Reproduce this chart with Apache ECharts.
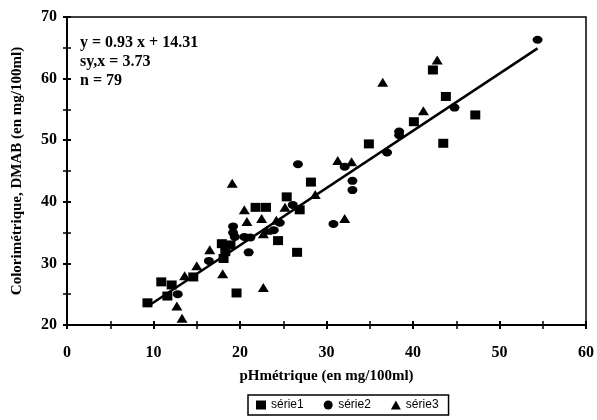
<!DOCTYPE html>
<html><head><meta charset="utf-8">
<script src="https://cdn.jsdelivr.net/npm/echarts@6/dist/echarts.min.js"></script>
<style>html,body{margin:0;padding:0;background:#fff}#c{width:597px;height:420px}</style>
</head><body><div id="c"></div>
<script>
const serie1 = [[9.3,23.6],[10.9,27.0],[12.1,26.5],[11.6,24.7],[14.6,27.8],[17.9,33.2],[18.9,33.0],[18.3,31.9],[18.1,30.8],[19.6,25.2],[21.8,39.1],[23.0,39.1],[25.4,40.8],[24.4,33.7],[26.6,31.8],[28.2,43.2],[26.9,38.7],[34.9,49.4],[40.1,53.0],[43.5,49.5],[43.8,57.1],[42.3,61.4],[47.2,54.1]];
const serie2 = [[12.8,25.0],[16.4,30.4],[19.2,36.0],[19.2,35.0],[19.4,34.3],[20.5,34.3],[21.0,31.8],[21.2,34.2],[23.9,35.4],[24.6,36.6],[26.1,39.5],[26.7,46.1],[30.8,36.4],[32.1,45.7],[33.0,43.4],[33.0,41.9],[37.0,48.0],[38.4,51.4],[38.4,50.8],[44.8,55.3],[54.4,66.3]];
const serie3 = [[12.7,23.1],[13.3,21.1],[13.6,28.0],[15.0,29.6],[16.5,32.2],[18.0,28.3],[19.1,43.0],[20.5,38.7],[20.8,36.8],[22.5,37.3],[22.7,34.8],[22.7,26.1],[24.2,37.0],[23.1,35.4],[25.2,39.1],[28.7,41.2],[31.3,46.7],[32.9,46.5],[32.1,37.3],[36.5,59.4],[41.2,54.8],[42.8,63.0]];
const lineX = [9.3, 54.4];
const lineY = [23.0, 64.9];
const eqLines = ['y = 0.93 x + 14.31', 'sy,x = 3.73', 'n = 79'];
const seriesNames = ['série1', 'série2', 'série3'];
const xTitle = 'pHmétrique (en mg/100ml)';
const yTitle = 'Colorimétrique, DMAB (en mg/100ml)';

const serif = '"Liberation Serif", "DejaVu Serif", serif';
const chart = echarts.init(document.getElementById('c'), null, {renderer:'canvas'});
const axisCommon = {
  axisLine:{show:true, onZero:false, lineStyle:{color:'#000', width:2}},
  splitLine:{show:false}
};
chart.setOption({
  animation:false,
  backgroundColor:'#fff',
  grid:{left:67, right:7, top:17, bottom:95, show:true, borderColor:'#000', borderWidth:1.5, backgroundColor:'transparent'},
  legend:{
    bottom:5, left:248,
    data:[{name:seriesNames[0], icon:'rect'},{name:seriesNames[1], icon:'circle'},{name:seriesNames[2], icon:'triangle'}],
    itemWidth:10, itemHeight:9, itemGap:20,
    borderColor:'#000', borderWidth:1.5, padding:[4,10,4,8],
    textStyle:{fontFamily:'"Liberation Sans", Arial, sans-serif', fontSize:12, color:'#000'}
  },
  xAxis:[
    Object.assign({type:'value', min:0, max:60, interval:10, position:'bottom',
      name:xTitle, nameLocation:'middle', nameGap:44,
      nameTextStyle:{fontFamily:serif, fontWeight:'bold', fontSize:15, color:'#000'},
      axisTick:{show:true, inside:false, length:4, lineStyle:{color:'#000', width:2}},
      minorTick:{show:true, splitNumber:2, length:4, lineStyle:{color:'#000', width:1.5}},
      axisLabel:{margin:20, fontFamily:serif, fontWeight:'bold', fontSize:16, color:'#000'}}, axisCommon),
    Object.assign({type:'value', min:0, max:60, interval:10, position:'bottom',
      axisTick:{show:true, inside:true, length:4, lineStyle:{color:'#000', width:2}},
      minorTick:{show:true, splitNumber:2, length:4, lineStyle:{color:'#000', width:1.5}},
      axisLabel:{show:false}}, axisCommon)
  ],
  yAxis:[
    Object.assign({type:'value', min:20, max:70, interval:10, position:'left',
      name:yTitle, nameLocation:'middle', nameGap:42,
      nameTextStyle:{fontFamily:serif, fontWeight:'bold', fontSize:15, color:'#000'},
      axisTick:{show:true, inside:false, length:4, lineStyle:{color:'#000', width:2}},
      minorTick:{show:true, splitNumber:2, length:4, lineStyle:{color:'#000', width:1.5}},
      axisLabel:{margin:10, fontFamily:serif, fontWeight:'bold', fontSize:16, color:'#000'}}, axisCommon),
    Object.assign({type:'value', min:20, max:70, interval:10, position:'left',
      axisTick:{show:true, inside:true, length:4, lineStyle:{color:'#000', width:2}},
      minorTick:{show:true, splitNumber:2, length:4, lineStyle:{color:'#000', width:1.5}},
      axisLabel:{show:false}}, axisCommon)
  ],
  graphic:[{
    type:'text', left:80, top:33,
    style:{text:eqLines.join('\n'), fontFamily:serif, fontWeight:'bold', fontSize:16, lineHeight:19, fill:'#000'}
  }],
  series:[
    {type:'line', data:lineX.map((x,i)=>[x,lineY[i]]), symbol:'none', lineStyle:{color:'#000', width:2.5}, silent:true, z:1},
    {name:seriesNames[0], type:'scatter', symbol:'rect', symbolSize:[10,9], data:serie1, itemStyle:{color:'#000', opacity:1}, z:3},
    {name:seriesNames[1], type:'scatter', symbol:'circle', symbolSize:[10,8], data:serie2, itemStyle:{color:'#000', opacity:1}, z:3},
    {name:seriesNames[2], type:'scatter', symbol:'triangle', symbolSize:[11,9], data:serie3, itemStyle:{color:'#000', opacity:1}, z:3}
  ]
});
</script></body></html>
